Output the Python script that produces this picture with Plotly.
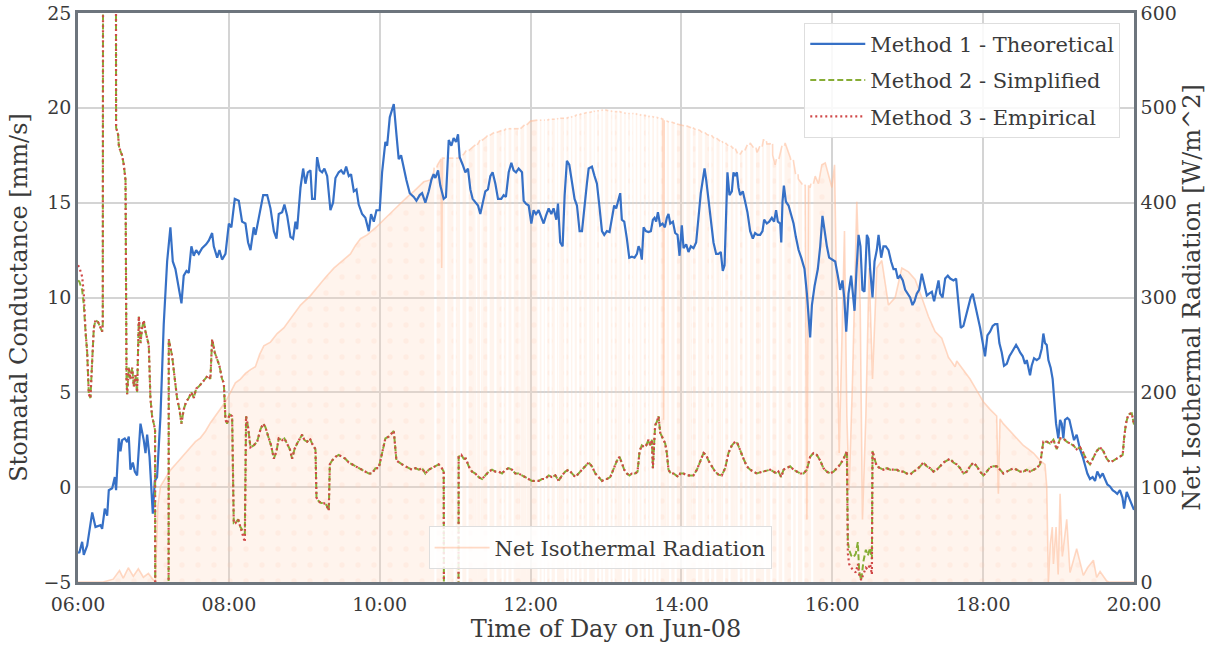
import plotly.graph_objects as go
import pandas as pd

# ---------------- data (minutes after 06:00 on Jun-08) ----------------
m1_pts = [(0,-3.4),(1,-3.47),(3.3,-2.88),(4.6,-3.57),(7.3,-3.08),(11.3,-1.33),(13.9,-2.1),(17.9,-2.0),(19.2,-2.2),(21.3,-1.13),(23.2,-1.5),(24.5,-0.16),(27.2,-0.06),(29.3,0.53),(30.3,-0.16),(32.5,2.57),(33.8,1.89),(35.1,2.48),(37.2,2.57),(39.1,2.38),(40.4,2.67),(41.7,0.92),(43.6,1.3),(45.2,0.82),(47.0,0.62),(49.7,3.35),(52.3,2.48),(53.7,1.79),(55.0,2.77),(56.9,1.6),(59.5,-1.4),(61.1,0.33),(62.9,0.53),(65.6,3.74),(68.2,8.6),(70.9,11.9),(73.5,13.7),(75.4,11.9),(77.5,11.5),(80.2,10.4),(82.3,9.69),(84.1,11.15),(86.3,11.4),(88.1,11.3),(90.2,12.7),(92.1,12.2),(94.0,12.5),(96.1,12.3),(98.7,12.6),(101.9,12.8),(104,13.0),(106.7,13.4),(108,12.7),(110.7,12.1),(112.5,12.5),(114.6,12.0),(117.3,12.3),(120,13.9),(122,13.7),(124.7,15.2),(127.9,15.1),(130.5,14.0),(133.2,13.9),(135.3,12.9),(137.2,12.5),(139.8,13.7),(141.2,13.3),(143.8,14.2),(147.3,15.4),(150.5,15.4),(153.1,14.7),(155.8,13.5),(157.9,13.1),(159.7,14.4),(162.4,14.5),(164.2,14.9),(166.4,14.3),(169,13.2),(171.1,13.1),(173,14.0),(174.3,13.6),(177,15.8),(179.1,16.8),(180.9,16.0),(182.8,16.6),(184.9,16.7),(186.2,15.2),(188.4,15.2),(190.2,17.4),(192.3,16.7),(194.2,16.6),(196,16.8),(198.2,16.4),(200.8,14.6),(202.9,15.0),(204.8,16.3),(207.4,16.6),(209.3,16.7),(211.4,16.5),(213.3,16.9),(215.4,16.4),(217.2,16.5),(219.4,15.6),(221.5,15.7),(223.3,14.9),(226,14.4),(228.6,14.2),(231.3,13.5),(233.1,14.4),(235.3,14.0),(237.4,14.6),(240,14.6),(241.9,16.6),(244.5,18.2),(245.9,18.0),(248,19.5),(249.8,19.9),(251.2,20.2),(253.3,18.6),(255.1,17.3),(257,17.5),(259.1,16.8),(261.2,16.2),(263.9,15.5),(267.1,15.3),(269.2,15.1),(271.8,15.4),(273.7,15.5),(276.3,15.0),(279,15.6),(281.1,16.2),(282.9,16.5),(284.3,16.3),(286.4,16.7),(288.2,15.9),(290.9,15.2),(292.7,15.3),(294.9,18.3),(297,18.0),(298.8,18.4),(300.7,18.2),(302.3,18.6),(303.6,17.4),(306,17.0),(308.1,16.6),(310.2,16.8),(312.1,15.7),(313.9,15.2),(316.1,15.0),(318.2,14.85),(320,14.4),(321.9,15.05),(324,15.6),(326.1,15.7),(328,16.4),(329.8,16.6),(332,16.0),(334.1,15.2),(336.7,15.2),(338.6,15.4),(340.4,15.3),(342.6,16.6),(344.7,17.1),(346.5,16.7),(348.4,16.6),(350.5,16.8),(353.2,16.6),(354.5,15.1),(356.3,14.95),(358.5,14.85),(360.6,13.9),(362.4,14.6),(364.3,14.4),(366.4,14.6),(368.5,14.2),(370.4,13.9),(372.2,14.3),(374.4,14.7),(376.5,14.4),(378.3,14.7),(380.5,14.1),(381.8,14.95),(383.6,12.9),(385.5,12.7),(387.1,15.4),(388.9,17.2),(390.8,17.0),(392.9,16.2),(395,15.2),(396.9,14.85),(399,13.5),(400.9,13.5),(403,15.05),(404.8,16.0),(406.2,16.8),(408.8,16.9),(410.9,16.4),(412.8,16.0),(414.7,14.85),(416.8,13.5),(418.6,13.3),(420.7,13.5),(422.8,13.45),(424.7,14.1),(426.5,14.85),(428.1,14.7),(430,15.1),(431.3,15.5),(432.6,14.1),(434.5,14.0),(436.6,13.1),(438.5,12.1),(440.6,12.15),(442.7,12.1),(444.6,12.3),(445.9,12.7),(447.2,12.5),(448.5,12.0),(449.9,13.7),(451.7,13.5),(453.8,13.45),(455.7,13.5),(457.3,14.1),(458.6,14.2),(459.9,14.0),(461.3,14.5),(463.1,13.8),(465,13.9),(466.8,13.7),(468.4,14.2),(469.7,14.4),(471.1,13.9),(473.2,14.0),(475,13.4),(476.9,13.3),(478.5,12.2),(480.3,13.8),(481.7,12.6),(483.8,12.8),(485.6,12.4),(487.5,12.7),(489.6,12.6),(491.7,12.9),(493.6,14.3),(495.4,15.5),(497,16.2),(498.4,16.8),(499.7,16.2),(501.5,15.2),(503.7,13.9),(505.5,12.9),(507.6,12.3),(509.5,12.3),(511.3,12.4),(512.9,11.4),(514.3,11.7),(515.6,14.5),(516.6,16.6),(518.2,15.4),(520.1,15.6),(521.4,16.6),(522.7,16.4),(524.1,16.6),(525.4,15.8),(526.7,15.4),(528.8,15.6),(530.7,15.05),(532.5,14.5),(534.7,13.5),(536.8,13.1),(538.6,13.4),(540.5,13.3),(542.6,13.3),(544.5,13.5),(545.8,14.1),(547.9,13.9),(549.8,14.0),(551.9,14.2),(553.7,14.0),(555.3,14.6),(556.7,14.0),(558.6,13.9),(559.4,12.9),(560.4,15.05),(561.5,15.9),(563.1,15.05),(565.2,14.85),(567.3,14.4),(569.2,13.9),(571,13.2),(573.2,12.5),(575.3,12.1),(577.9,11.5),(579.8,10.2),(581.1,9.0),(582.4,7.9),(583.8,9.6),(585.9,10.6),(588.5,11.5),(590.4,12.7),(592.2,14.3),(593.8,13.5),(595.7,12.7),(597.5,12.1),(599.7,12.0),(602.3,11.9),(604.4,11.15),(606.3,10.4),(608.1,10.9),(609.5,10.0),(611.1,8.2),(612.9,10.2),(615,11.15),(616.4,10.0),(617.7,9.3),(619.3,11.5),(620.9,13.3),(622.4,12.7),(624,10.4),(625.6,10.3),(627.5,13.3),(628.8,13.1),(630.1,11.5),(632,10.0),(633.6,11.9),(635.4,12.5),(636.8,13.3),(638.9,12.1),(640.7,12.7),(642.6,12.7),(644.7,12.5),(646.8,11.9),(648.7,11.5),(650.5,11.5),(652.1,11.0),(654,11.15),(656.1,10.9),(658,10.4),(660.1,10.2),(661.9,10.0),(663.8,9.6),(665.4,9.8),(667.2,10.2),(669.1,10.4),(671.2,11.25),(673.3,10.6),(675.2,10.1),(677,10.2),(679.2,10.3),(681,9.8),(682.6,10.4),(684.5,10.9),(685.8,10.2),(687.7,10.0),(689.8,11.0),(691.9,11.15),(693.8,11.0),(696.4,10.9),(698.5,11.0),(700.3,9.8),(702.2,8.4),(704.3,8.5),(706.4,9.1),(708.3,9.6),(710.1,10.0),(711.7,10.2),(713.6,9.6),(715.4,9.2),(717.6,8.4),(719.7,7.6),(721.5,6.9),(723.4,8.0),(725.5,8.2),(727.6,8.5),(729.5,8.6),(731.3,8.6),(732.9,7.6),(734.8,7.1),(736.6,6.4),(738.8,6.5),(740.9,6.9),(742.7,7.1),(744.6,7.3),(746.2,7.5),(748,7.3),(749.4,7.1),(751.5,6.9),(753.3,6.5),(754.7,6.7),(756,6.2),(757.3,5.9),(758.6,6.4),(760.5,6.8),(762.6,6.7),(764.7,6.8),(766.6,7.3),(767.9,8.1),(769.2,7.6),(770.6,7.5),(771.9,6.7),(773.7,6.3),(775.3,5.7),(776.4,4.7),(778,3.35),(779.8,2.57),(781.2,3.55),(782.5,3.35),(783.8,2.57),(785.1,3.55),(787,3.65),(788.6,3.55),(790.4,2.96),(792.3,2.48),(794.4,2.77),(797.1,1.99),(799.2,1.6),(801,1.21),(802.9,0.72),(805,0.43),(807.1,0.53),(809,0.33),(810.8,0.82),(813,0.53),(815.1,0.72),(816.9,0.43),(818.8,0.14),(820.9,0.04),(823,-0.16),(824.9,-0.25),(826.7,-0.35),(828.8,-0.16),(830.8,-0.55),(832.1,-1.13),(834.2,-0.25),(836,-0.55),(840,-1.2)]

m2_pts = [(0,10.9),(1,10.85),(3.3,10.4),(4.6,9.6),(6,8.2),(7.3,7.1),(8.6,4.9),(9.9,4.7),(11.3,6.7),(12.6,8.4),(13.9,8.8),(16,8.7),(17.9,8.4),(19.2,8.2),(19.7,8.6),(20.3,60),(29.8,60),(30.3,18.95),(31.9,18.6),(32.5,18.0),(33.8,17.7),(35.1,17.5),(36.4,17.0),(37.8,16.2),(38.6,5.7),(39.1,4.9),(40.4,6.3),(41.7,5.7),(43.1,6.3),(44.4,5.3),(45.7,5.9),(47.0,5.0),(48.4,9.0),(49.7,7.6),(51,8.4),(52.3,8.8),(53.7,8.2),(55,7.8),(56.3,7.5),(57.6,4.7),(59,3.7),(60.3,3.35),(61.3,3.0),(61.8,-30),(71.8,-30),(72.2,7.8),(73.5,7.4),(74.9,6.9),(77.0,5.7),(78.8,4.7),(80.7,4.1),(82.3,3.35),(84.1,4.1),(86.0,4.5),(88.1,4.7),(90.2,5.0),(92.1,4.7),(94,5.2),(96.1,5.3),(98.7,5.5),(101.4,5.7),(103.5,5.9),(105.3,5.7),(106.7,7.8),(108.8,7.1),(110.7,6.7),(112.5,6.4),(114.6,5.7),(116,5.5),(117.3,3.55),(118.6,3.35),(120.5,3.84),(122.6,3.74),(123.9,-1.9),(125.2,-1.9),(127.4,-1.7),(129.2,-2.1),(131.1,-2.3),(132.7,-2.5),(133.7,3.74),(135.3,3.16),(137.2,2.1),(139.8,2.2),(142.5,2.4),(145.2,3.06),(147.3,3.35),(149.1,3.16),(151.8,2.57),(153.6,2.2),(155.8,1.5),(157.9,1.9),(159.7,2.57),(162.4,2.48),(164.2,2.57),(166.4,2.3),(168.5,2.0),(170.3,1.5),(172.2,2.0),(174.3,2.3),(176.4,2.57),(178.3,2.77),(180.1,2.48),(182.3,2.4),(184.4,2.57),(186.2,2.3),(188.9,2.0),(189.7,-0.55),(191.5,-0.74),(193.4,-0.84),(195.5,-0.84),(197.6,-0.94),(199.5,-1.23),(200.3,1.2),(202.1,1.4),(204.8,1.6),(207.4,1.7),(210.1,1.6),(212.7,1.5),(215.4,1.3),(218,1.2),(220.7,1.1),(223.3,1.0),(226,0.92),(228.6,0.82),(231.3,0.72),(233.9,0.72),(236.6,1.0),(239.2,1.0),(241.9,1.8),(244.5,2.57),(247.2,2.67),(249.8,2.87),(251.2,2.96),(253.3,1.4),(255.1,1.3),(257.8,1.2),(260.4,1.1),(263.1,1.0),(265.7,0.92),(268.4,1.0),(271,0.92),(273.7,1.0),(276.3,0.72),(279,0.92),(281.6,1.0),(284.3,1.1),(286.9,1.2),(289,1.05),(290.9,0.82),(291.7,-30),(302.3,-30),(302.8,1.6),(304.9,1.7),(306.8,1.5),(308.6,1.5),(310.8,1.1),(313.4,0.82),(316.1,0.72),(318.7,0.53),(321.4,0.43),(324,0.62),(326.7,0.82),(329.3,0.92),(332,0.82),(334.6,0.82),(337.3,0.72),(339.9,0.92),(342.6,1.0),(345.2,0.92),(347.9,0.72),(350.5,0.72),(353.2,0.62),(355.8,0.53),(358.5,0.43),(361.1,0.33),(363.8,0.33),(366.4,0.33),(369.1,0.43),(371.7,0.43),(374.4,0.62),(377,0.53),(379.7,0.62),(382.3,0.33),(385,0.62),(387.6,0.82),(390.3,0.92),(392.9,0.72),(395.6,0.53),(398.2,0.72),(400.9,0.92),(403.5,1.1),(406.2,1.3),(408.8,1.1),(411.5,0.72),(414.1,0.53),(416.8,0.33),(419.4,0.43),(420.7,0.43),(423.4,0.53),(426,0.92),(428.7,1.4),(430.8,1.6),(432.6,1.3),(434.5,0.92),(436.6,0.72),(438.7,0.62),(440.6,0.72),(443.2,0.72),(445.1,0.82),(446.7,1.9),(448.5,2.2),(450.4,2.1),(452,2.2),(453.8,2.5),(455.2,2.2),(456.5,2.5),(457.3,1.0),(458.3,2.4),(459.1,3.26),(460.5,3.45),(461.8,3.74),(463.1,2.87),(465.2,2.57),(467.1,2.3),(468.4,1.8),(469.7,0.92),(471.6,0.72),(473.7,0.72),(475.8,0.62),(477.7,0.53),(479,0.72),(481.7,0.72),(484.3,0.62),(487,0.62),(489.6,0.62),(492.3,0.92),(494.9,1.4),(497.6,1.8),(499.7,1.7),(501.5,1.4),(504.2,1.1),(506.8,0.82),(509.5,0.66),(512.1,0.62),(514.8,1.0),(517.4,1.8),(520.1,2.2),(522.7,2.4),(524.6,2.3),(526.7,1.9),(529.4,1.5),(532,1.1),(534.7,0.92),(537.3,0.82),(540,0.72),(542.6,0.78),(545.3,0.82),(547.9,0.86),(550.6,0.92),(553.2,0.82),(555.9,0.72),(557.2,0.82),(559.4,0.53),(561.2,0.92),(563.9,1.0),(566.5,1.1),(569.2,0.92),(571.8,0.82),(574.5,0.72),(577.1,0.72),(579.8,0.92),(582.4,1.6),(585.1,1.8),(587.7,1.7),(590.4,1.4),(593,1.0),(595.7,0.82),(598.3,0.72),(601,0.82),(603.6,1.0),(606.3,1.2),(609,1.5),(611.6,1.9),(612.4,-2.9),(613.4,-3.3),(615,-3.6),(616.8,-3.7),(618.7,-3.5),(620.3,-2.9),(621.4,-4.45),(623,-4.9),(624.8,-3.9),(626.7,-3.3),(628.3,-3.6),(630.1,-3.2),(631.5,-3.8),(632,1.9),(633.6,1.5),(635.4,1.1),(638.1,1.0),(640.7,0.92),(643.4,1.0),(646,0.92),(648.7,0.92),(651.3,0.92),(654,0.82),(656.6,0.82),(659.3,0.72),(661.9,0.66),(664.6,0.82),(667.2,0.92),(669.9,1.1),(672.5,1.3),(675.2,1.1),(677.8,1.0),(680.5,0.82),(683.1,0.92),(685.8,1.1),(688.4,1.3),(691.1,1.4),(693.7,1.5),(696.3,1.3),(699,1.2),(701.7,1.0),(704.3,0.72),(707,0.82),(709.6,1.1),(712.3,1.3),(714.9,1.1),(717.6,0.82),(720.2,0.62),(722.9,0.82),(725.5,1.05),(728.2,1.1),(730.8,1.1),(733.5,0.92),(736.1,0.72),(738.8,0.82),(741.4,0.92),(744.1,1.0),(746.7,0.92),(749.4,0.82),(752,0.82),(754.7,0.92),(757.3,0.82),(760,0.92),(762.6,1.0),(765.3,1.2),(767.9,2.4),(770.6,2.4),(773.2,2.3),(775.9,2.5),(778.5,2.0),(781.2,2.57),(783.8,2.57),(786.5,2.4),(789.1,2.3),(791.8,2.2),(794.4,2.0),(797.1,2.1),(799.7,1.8),(802.4,1.4),(805,1.2),(807.7,1.6),(810.3,1.9),(813,2.1),(815.6,1.9),(818.3,1.5),(820.9,1.3),(823.6,1.4),(826.2,1.5),(828.9,1.6),(831,1.7),(832.1,2.57),(833.6,3.35),(835.5,3.84),(838.2,3.9),(840,3.3)]

# Method 3 follows Method 2 except at these readings
m3_differs = {0: 11.7, 1: 11.6, 3.3: 11.1, 4.6: 10.2, 131.1: -2.6, 132.7: -2.9,
              612.4: -3.5, 613.4: -4.05, 615: -4.25, 616.8: -4.4, 618.7: -4.5, 620.3: -4.05,
              621.4: -4.6, 623: -4.9, 624.8: -4.6, 626.7: -4.25, 628.3: -4.35, 630.1: -4.05, 631.5: -4.6}

rad_pts = [(0,0),(20,0),(28,3),(33,12),(36,4),(40,15),(44,6),(48,14),(52,5),(56,9),(60,2),(61.5,0),(62.5,40),(63.5,80),(65.6,101),(69.6,109),(73.5,118),(77.5,124),(81.5,130),(85.5,136),(89.5,142),(93.4,148),(97.4,152),(101.4,159),(105.4,168),(109.3,175),(113.3,182),(117.3,190),(121.3,200),(125.2,210),(129.2,214),(133.2,220),(137.2,224),(141.1,227),(144.5,240),(147.8,249),(153.1,253),(158.4,262),(163.7,268),(170.4,280),(177,292),(184.9,302),(190.2,311),(196.8,321),(203.5,331),(210,338),(216.7,346),(220.7,355),(224.7,362),(230,366),(233.9,370),(237.9,375),(243.2,382),(248.5,389),(252.5,394),(256.5,400),(261.8,406),(267.1,412),(271,417),(275,422),(280.3,424),(283,432),(286,440),(288.8,446),(289.3,331),(289.9,447),(296,447),(302.8,447),(306.8,451),(310.8,455),(316.1,461),(321.4,467),(325.3,470),(329.3,473),(336,476),(342.6,478),(350.5,478),(355.2,482),(360,486),(368.5,487),(377,488),(383.6,489),(390.3,490),(399.5,493),(408.8,496),(414,497),(419.4,498),(430.6,496),(441.9,494),(451.2,492),(460.5,490),(465.3,488),(465.8,171),(466.3,487),(468.4,486),(474.3,484),(480.3,482),(487.6,479),(494.9,476),(500.2,472),(505.5,469),(510.8,465),(516.1,461),(521.4,457),(526.7,451),(530.7,456),(534.7,463),(537.3,458),(540,453),(542.7,459),(545.3,467),(548,462),(550.6,463),(552.6,450),(554.6,440),(558.5,452),(562.5,463),(566.5,448),(570.5,432),(573,425),(575.8,420),(578.5,418),(579.8,66),(581.1,418),(582.4,416),(586.4,428),(589,420),(591.7,440),(594.4,442),(597,428),(599.7,416),(601.8,440),(603.6,272),(605.5,136),(607.6,253),(609.7,370),(611.6,175),(613.4,97),(616.1,214),(619.5,401),(622.2,292),(624,66),(626.7,175),(629.3,331),(632,214),(635.4,331),(639.4,339),(644.7,292),(650,300),(655.3,331),(660.6,327),(665.9,319),(671.2,300),(676.5,280),(681.8,264),(687.1,257),(692.4,237),(697.7,227),(699,233),(704.3,224),(709.6,214),(714.9,202),(720.2,190),(725.5,182),(730.8,175),(732.1,93),(733.4,172),(736,167),(741.4,159),(746.7,151),(752,144),(756,140),(760,136),(765.3,128),(769.2,124),(770.6,101),(771.9,0),(773.4,40),(775,58),(775.9,19),(778,58),(779.7,8),(781.2,93),(783,27),(786.5,66),(789.1,10),(794.4,35),(799.7,7),(803,15),(807.7,23),(810.3,5),(813,11),(818.3,1),(820,0),(840,0)]

# sensor dropouts: (minute, level of the reading around the dropout)
rad_dropouts = [(284.3,437),(292.8,447),(299.6,447),(304.9,450),(309.8,455),(316.6,461),(320.8,466),(326.5,471),(332,474),(337.8,476),(341.5,478),(345.7,478),(351,478),(355.9,482),(366.4,487),(369.6,487),(372.3,487),(375.9,488),(380.2,488),(382.9,489),(387.6,489),(391.2,490),(394.2,491),(397.7,493),(401.4,494),(405.7,495),(409.3,496),(412,497),(415.4,497),(418.4,498),(422.8,497),(426,496),(430,496),(433.5,495),(436.7,494),(439.9,494),(442.7,494),(445.9,493),(449.1,492),(452.6,491),(455.8,491),(459.2,490),(462.6,489),(467.1,486),(471.1,485),(475.4,483),(483,481),(488.1,479),(492.3,477),(497.6,474),(502.9,471),(506.9,468),(511.3,465),(514,463),(518.2,460),(521.9,457),(525.6,452),(529.5,455),(533.4,461),(538.3,458),(543.2,459),(546.6,465),(551.5,462),(556.5,446),(561,460),(568,445),(571.8,430),(577,419),(584,420)]

x_ticks = ["06:00", "08:00", "10:00", "12:00", "14:00", "16:00", "18:00", "20:00"]

# ---------------- build ----------------
BASE = pd.Timestamp("2023-06-08 06:00")
def to_time(mins):
    return [BASE + pd.Timedelta(minutes=float(m)) for m in mins]

m1_t, m1_v = zip(*m1_pts)
m2_t, m2_v = zip(*m2_pts)
m3_v = [m3_differs.get(t, v) for t, v in m2_pts]

# fill series: dropouts reach zero; line series: dropouts are gaps
fill_pts = list(rad_pts)
line_pts = list(rad_pts)
for g, lvl in rad_dropouts:
    fill_pts += [(g - 1.0, lvl), (g - 0.85, 0), (g + 0.85, 0), (g + 1.0, lvl)]
    line_pts += [(g - 1.0, lvl), (g, None), (g + 1.0, lvl)]
fill_pts.sort(key=lambda p: p[0])
line_pts.sort(key=lambda p: p[0])
f_t, f_v = zip(*fill_pts)
l_t, l_v = zip(*line_pts)

FONT = "DejaVu Serif"
TXT = "#3a3a3a"
SPINE = "#6d757d"
GRID = "#d4d4d4"

fig = go.Figure()
fig.add_trace(go.Scatter(
    x=to_time(f_t), y=list(f_v), yaxis="y", mode="lines", fill="tozeroy",
    line=dict(width=0, color="rgba(0,0,0,0)"),
    fillcolor="rgba(255,212,185,0.25)",
    fillpattern=dict(shape=".", fgcolor="rgba(255,200,168,0.32)", size=16,
                     solidity=0.09, fillmode="overlay"),
    showlegend=False, hoverinfo="skip"))
fig.add_trace(go.Scatter(
    x=to_time(l_t), y=list(l_v), yaxis="y", mode="lines", connectgaps=False,
    line=dict(width=1.6, color="rgba(255,186,150,0.55)"),
    name="Net Isothermal Radiation", legend="legend2"))

fig.add_trace(go.Scatter(x=to_time(m1_t), y=list(m1_v), yaxis="y2", mode="lines",
                         line=dict(color="#3670C6", width=2.2),
                         name="Method 1 - Theoretical", legendgroup="a"))
fig.add_trace(go.Scatter(x=to_time(m2_t), y=list(m2_v), yaxis="y2", mode="lines",
                         line=dict(color="#87AD35", width=2, dash="6px,3px"),
                         name="Method 2 - Simplified", legendgroup="b"))
fig.add_trace(go.Scatter(x=to_time(m2_t), y=m3_v, yaxis="y2", mode="lines",
                         line=dict(color="#D04848", width=2.2, dash="2px,3px"),
                         name="Method 3 - Empirical", legendgroup="c"))

tick_times = [pd.Timestamp("2023-06-08 " + s) for s in x_ticks]
fig.update_layout(
    width=1225, height=655,
    margin=dict(l=78, r=91, t=13, b=73),
    paper_bgcolor="white", plot_bgcolor="white",
    font=dict(family=FONT, color=TXT, size=19),
    xaxis=dict(
        range=[tick_times[0], tick_times[-1]], tickvals=tick_times, ticktext=x_ticks,
        showgrid=True, gridcolor=GRID, gridwidth=2,
        showline=True, linecolor=SPINE, linewidth=2.5, mirror=True,
        ticks="", ticklabelstandoff=3, tickfont=dict(size=19, family=FONT, color=TXT),
        title=dict(text="Time of Day on Jun-08", font=dict(size=24, family=FONT, color=TXT), standoff=4),
        automargin=False, zeroline=False),
    yaxis=dict(
        range=[0, 600], dtick=100, side="right",
        showgrid=True, gridcolor=GRID, gridwidth=2, zeroline=False,
        showline=True, linecolor=SPINE, linewidth=2.5,
        ticks="", tickfont=dict(size=19, family=FONT, color=TXT),
        title=dict(text="Net Isothermal Radiation [W/m^2]", font=dict(size=24, family=FONT, color=TXT), standoff=8),
        automargin=False),
    yaxis2=dict(
        range=[-5, 25], dtick=5, side="left", overlaying="y",
        showgrid=False, zeroline=False,
        showline=True, linecolor=SPINE, linewidth=2.5,
        ticks="", tickfont=dict(size=19, family=FONT, color=TXT),
        title=dict(text="Stomatal Conductance [mm/s]", font=dict(size=24, family=FONT, color=TXT), standoff=10),
        automargin=False),
    legend=dict(x=0.987, y=0.983, xanchor="right", yanchor="top",
                bgcolor="rgba(255,255,255,0.85)", bordercolor="#dedede", borderwidth=1,
                font=dict(size=21, family=FONT, color=TXT), itemwidth=55,
                tracegroupgap=6),
    legend2=dict(x=0.332, y=0.022, xanchor="left", yanchor="bottom",
                 bgcolor="rgba(255,255,255,0.85)", bordercolor="#dedede", borderwidth=1,
                 font=dict(size=21, family=FONT, color=TXT), itemwidth=55),
)

fig.write_html("out.html")
